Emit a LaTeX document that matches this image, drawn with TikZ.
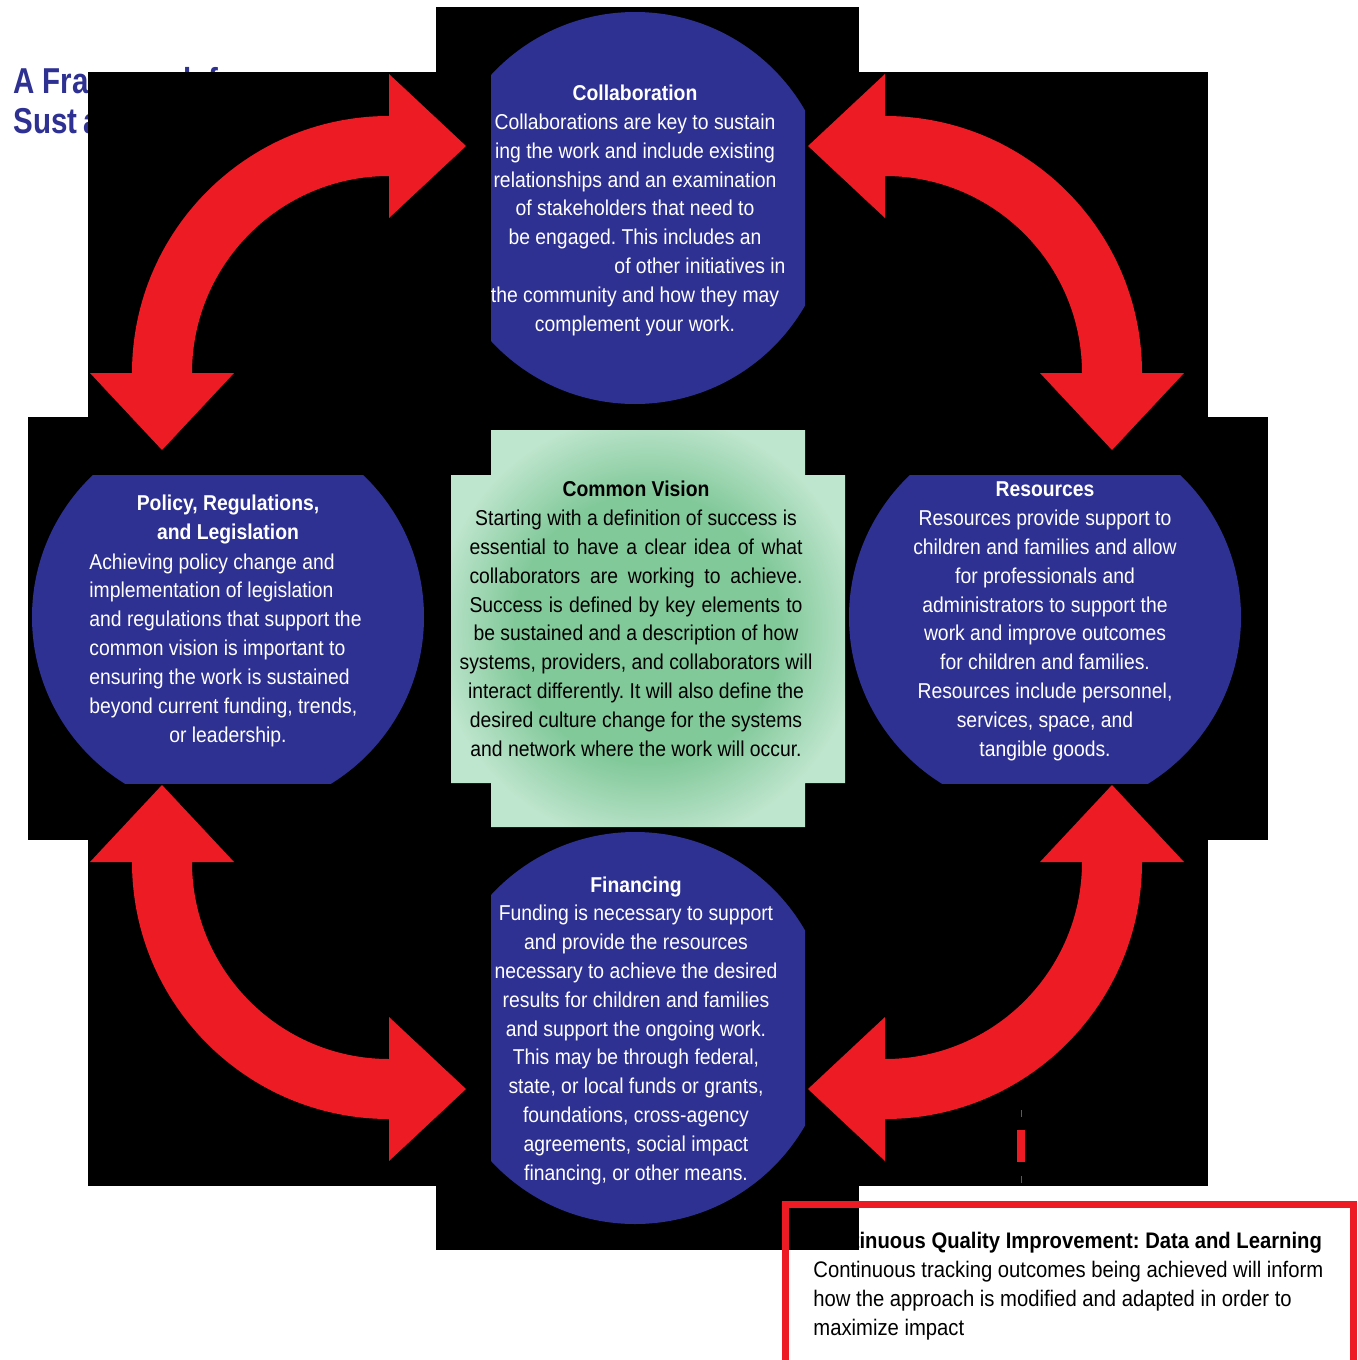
\documentclass[tikz,border=0pt]{standalone}
\usepackage{fontspec}
\setmainfont{Liberation Sans}[FakeStretch=0.9]
\newfontfamily\titlefont{Liberation Sans}[FakeStretch=0.82]
\frenchspacing
\definecolor{cblue}{RGB}{46,49,146}
\definecolor{cred}{RGB}{237,28,36}
\definecolor{gin}{RGB}{130,201,154}
\definecolor{gout}{RGB}{190,229,205}
\pgfdeclareradialshading{visionshade}{\pgfpoint{0bp}{0bp}}{color(0bp)=(gin); color(17bp)=(gin); color(27bp)=(gout); color(50bp)=(gout)}
\newcommand{\jline}[1]{\makebox[166.5pt][s]{#1}}
\begin{document}
\begin{tikzpicture}[x=0.5pt,y=-0.5pt,
  circtext/.style={font=\fontsize{10.75}{14.4}\selectfont\frenchspacing, text=white, align=center, inner sep=0pt},
  visiontext/.style={circtext, text=black},
  boxtext/.style={font=\fontsize{11.25}{14.5}\selectfont\frenchspacing, text=black, align=left, inner sep=0pt},
  titletext/.style={font=\titlefont\bfseries\fontsize{18}{20}\selectfont, text=cblue, align=left, inner sep=0pt},
  blackbg/.style={fill=black},
  redarrow/.style={fill=cred},
  bluedisc/.style={fill=cblue}]
\useasboundingbox (0,0) rectangle (1357,1360);
\fill[white] (0,0) rectangle (1357,1360);

% title (mostly hidden)
\node[titletext, anchor=base west] (title) at (13,133) {A Framework for\\Sust\kern3pt ainability};

% box text (partly hidden)
\node[boxtext, anchor=base west] (cqitext) at (813,1335) {\textbf{Continuous Quality Improvement: Data and Learning}\\Continuous tracking outcomes being achieved will inform\\how the approach is modified and adapted in order to\\maximize impact};

% black backgrounds
\fill[blackbg] (88,72) rectangle (1208,1186);
\fill[blackbg] (436,7) rectangle (859,1250);
\fill[blackbg] (28,417) rectangle (1268,840);

% box border
\draw[cred, line width=3.5pt] (785,1204.5) rectangle (1353.5,1400);

% arrows
\fill[redarrow] (132,373) arc[start angle=180,end angle=270,radius=257] -- (389,74) -- (466,146) -- (389,218) -- (389,176) arc[start angle=270,end angle=180,radius=197] -- (234,373) -- (162,450) -- (90,373) -- cycle;
\fill[redarrow] (1142,373) arc[start angle=0,end angle=-90,radius=257] -- (885,74) -- (808,146) -- (885,218) -- (885,176) arc[start angle=-90,end angle=0,radius=197] -- (1040,373) -- (1112,450) -- (1184,373) -- cycle;
\fill[redarrow] (132,862) arc[start angle=180,end angle=90,radius=257] -- (389,1161) -- (466,1089) -- (389,1017) -- (389,1059) arc[start angle=90,end angle=180,radius=197] -- (234,862) -- (162,785) -- (90,862) -- cycle;
\fill[redarrow] (1142,862) arc[start angle=0,end angle=90,radius=257] -- (885,1161) -- (808,1089) -- (885,1017) -- (885,1059) arc[start angle=90,end angle=0,radius=197] -- (1040,862) -- (1112,785) -- (1184,862) -- cycle;

% discs
\begin{scope}
\clip (491,0) rectangle (805,420);
\fill[bluedisc] (635,208) circle[radius=196];
\end{scope}
\begin{scope}
\clip (491,820) rectangle (805,1240);
\fill[bluedisc] (635,1028) circle[radius=196];
\end{scope}
\begin{scope}
\clip (0,475) rectangle (440,783);
\fill[bluedisc] (228,617) circle[radius=196];
\end{scope}
\begin{scope}
\clip (840,475) rectangle (1260,783);
\fill[bluedisc] (1045,617) circle[radius=196];
\end{scope}

% common vision cross
\begin{scope}
\clip (491,430) rectangle (805,827) (451,475) rectangle (845,783);
\shade[shading=visionshade] (451,430) rectangle (845,827);
\end{scope}

% texts (anchor base = baseline of the last line)
\node[circtext, anchor=base] (collab) at (635,331) {\textbf{Collaboration}\\Collaborations are key to sustain\\ing the work and include existing\\relationships and an examination\\of stakeholders that need to\\be engaged. This includes an\\{\hspace*{65pt}}of other initiatives in\\the community and how they may\\complement your work.};

\node[circtext, font=\fontsize{10.75}{14.4}\selectfont\bfseries, anchor=base] (polhead) at (228,539) {Policy, Regulations,\\and Legislation};
\node[circtext, align=left, anchor=base west] (polbody) at (89,713) {Achieving policy change and\\implementation of legislation\\and regulations that support the\\common vision is important to\\ensuring the work is sustained\\beyond current funding, trends,};
\node[circtext, anchor=base] (polend) at (228,742) {or leadership.};

\node[visiontext, anchor=base] (vision) at (636,756) {\textbf{Common Vision}\\Starting with a definition of success is\\\jline{essential to have a clear idea of what}\\\jline{collaborators are working to achieve.}\\\jline{Success is defined by key elements to}\\be sustained and a description of how\\systems, providers, and collaborators will\\interact differently. It will also define the\\desired culture change for the systems\\and network where the work will occur.};

\node[circtext, anchor=base] (resources) at (1045,756) {\textbf{Resources}\\Resources provide support to\\children and families and allow\\for professionals and\\administrators to support the\\work and improve outcomes\\for children and families.\\Resources include personnel,\\services, space, and\\tangible goods.};

\node[circtext, anchor=base] (financing) at (636,1180) {\textbf{Financing}\\Funding is necessary to support\\and provide the resources\\necessary to achieve the desired\\results for children and families\\and support the ongoing work.\\This may be through federal,\\state, or local funds or grants,\\foundations, cross-agency\\agreements, social impact\\financing, or other means.};

% small red dashes
\fill[cred] (1020.5,1110) rectangle (1022,1117);
\fill[cred] (1017,1130) rectangle (1025,1162);
\fill[cred] (1020.5,1176) rectangle (1022,1183);
\end{tikzpicture}
\end{document}
